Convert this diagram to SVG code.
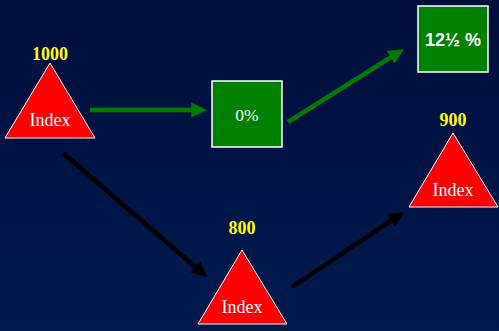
<svg xmlns="http://www.w3.org/2000/svg" width="499" height="331" viewBox="0 0 499 331">
<defs>
<linearGradient id="bg" x1="0" y1="0" x2="0" y2="1">
<stop offset="0" stop-color="#000e3c"/>
<stop offset="1" stop-color="#001a4e"/>
</linearGradient>
<marker id="ag" markerWidth="4" markerHeight="4" refX="2.5" refY="2" orient="auto" markerUnits="strokeWidth"><path d="M0,0.35 L3.5,2 L0,3.65 Z" fill="#007a00"/></marker>
<marker id="ak" markerWidth="4" markerHeight="4" refX="2.5" refY="2" orient="auto" markerUnits="strokeWidth"><path d="M0,0.35 L3.5,2 L0,3.65 Z" fill="#000000"/></marker>
<style>
.tri{fill:#ff0000;stroke:#ffffff;stroke-width:1}
.box{fill:#008000;stroke:#ffffff;stroke-width:1.5}
.val{font-family:"Liberation Serif",serif;font-weight:bold;font-size:18px;fill:#ffff00;text-anchor:middle}
.idx{font-family:"Liberation Serif",serif;font-size:18px;fill:#ffffff;text-anchor:middle}
.g{stroke:#007a00;stroke-width:4.5;fill:none}
.k{stroke:#000000;stroke-width:4.5;fill:none}
</style>
</defs>
<rect width="499" height="331" fill="url(#bg)"/>
<g id="connectors">
<line class="g" x1="90" y1="110" x2="202.5" y2="110" marker-end="url(#ag)"/>
<line class="g" x1="288" y1="122" x2="400.2" y2="51.4" marker-end="url(#ag)"/>
<line class="k" x1="63" y1="153" x2="203.6" y2="274" marker-end="url(#ak)"/>
<line class="k" x1="292" y1="287" x2="400.3" y2="214.5" marker-end="url(#ak)"/>
</g>
<g id="node1000">
<polygon class="tri" points="50,63 5,138 95,138"/>
<text class="val" x="50" y="60">1000</text>
<text class="idx" x="50" y="126">Index</text>
</g>
<g id="node0pct">
<rect class="box" x="212" y="81" width="70" height="66"/>
<text x="247" y="121" font-family="Liberation Serif, serif" font-size="17.5" fill="#ffffff" text-anchor="middle">0%</text>
</g>
<g id="node125pct">
<rect class="box" x="418" y="6" width="70" height="66"/>
<text x="453" y="46" font-family="Liberation Sans, Arial, sans-serif" font-weight="bold" font-size="18" fill="#ffffff" text-anchor="middle">12½ %</text>
</g>
<g id="node900">
<polygon class="tri" points="453,133 409,207 498,207"/>
<text class="val" x="453" y="126">900</text>
<text class="idx" x="453" y="196">Index</text>
</g>
<g id="node800">
<polygon class="tri" points="242,250 198,324 287,324"/>
<text class="val" x="242" y="234">800</text>
<text class="idx" x="242" y="313">Index</text>
</g>
</svg>
